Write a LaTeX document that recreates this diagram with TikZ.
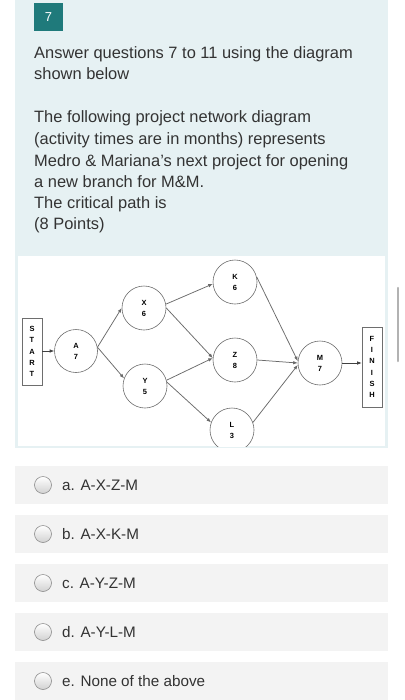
\documentclass[tikz,border=0pt]{standalone}
\usepackage{fontspec}
\setmainfont{Liberation Sans}
\usetikzlibrary{arrows.meta,shapes.geometric}
\definecolor{panel}{HTML}{E6F1F3}
\definecolor{teal7}{HTML}{1F7A7B}
\definecolor{txt}{HTML}{333333}
\definecolor{optbg}{HTML}{F3F3F3}
\definecolor{edge}{HTML}{6A6A6A}
\definecolor{ring}{HTML}{6E6E6E}
\tikzset{
  para/.style={anchor=base west, inner sep=0, text=txt, font=\fontsize{16.5}{21}\selectfont},
  act/.style={circle, draw=ring, line width=0.6pt, minimum size=44bp, inner sep=0, align=center,
     font=\fontsize{7.5}{11}\selectfont\bfseries, fill=white},
  endbox/.style={rectangle, draw=ring, line width=0.6pt, minimum width=20bp, inner sep=0, align=center,
     font=\fontsize{7.5}{11.2}\selectfont\bfseries, fill=white},
  arr/.style={draw=edge, line width=0.75pt, -{Latex[length=4.5bp,width=3.5bp]}},
  arrk/.style={draw=black!75, line width=0.6pt, -{Latex[length=4.5bp,width=3.5bp]}},
  optbox/.style={fill=optbg, draw=none},
  radio/.style={circle, draw=black!45, line width=0.6pt, minimum size=17bp, inner sep=0, top color=white, bottom color=black!18},
  opt/.style={anchor=base west, inner sep=0, text=txt, font=\fontsize{15.3}{18}\selectfont},
}
\begin{document}
\begin{tikzpicture}[x=1bp,y=-1bp]
\useasboundingbox (0,0) rectangle (404,700);
\fill[white] (0,0) rectangle (404,700);
% question panel
\fill[panel] (15,0) rectangle (388,448);
\fill[teal7] (34,3) rectangle (63,31);
\node[text=white, font=\fontsize{13}{13}\selectfont] (qnum) at (48.5,17) {7};
\node[para] (p1) at (34,59) {Answer questions 7 to 11 using the diagram};
\node[para] (p2) at (34,80) {shown below};
\node[para] (p3) at (34,123) {The following project network diagram};
\node[para] (p4) at (34,144) {(activity times are in months) represents};
\node[para] (p5) at (34,166) {Medro \& Mariana’s next project for opening};
\node[para] (p6) at (34,187) {a new branch for M\&M.};
\node[para] (p7) at (34,208) {The critical path is};
\node[para] (p8) at (34,229) {(8 Points)};
% diagram
\fill[white] (18,256) rectangle (385,446);
\begin{scope}
\clip (18,256) rectangle (385,446);
\node[endbox, minimum height=67bp] (start) at (32,351.5) {S\\T\\A\\R\\T};
\node[endbox, minimum height=80bp] (finish) at (372,367) {F\\I\\N\\I\\S\\H};
\node[act, minimum size=43bp] (A) at (76,351) {A\\7};
\node[act] (X) at (144,308) {X\\6};
\node[act] (Y) at (145,386) {Y\\5};
\node[act] (K) at (235,282) {K\\6};
\node[act] (Z) at (235,360) {Z\\8};
\node[act] (L) at (232,430) {L\\3};
\node[act] (M) at (320,363) {M\\7};
\draw[arrk] (start.east |- A) -- (A.west);
\draw[arr] (A.10) -- (X.west);
\draw[arr] (A.10) -- (Y.160);
\draw[arr] (X.10) -- (K.185);
\draw[arr] (X.east) -- (Z.175);
\draw[arr] (Y.15) -- (Z.175);
\draw[arr] (Y.10) -- (L.160);
\draw[arr] (K.13) -- (M.175);
\draw[arr] (Z.east) -- (M.west);
\draw[arr] (L.20) -- (M.185);
\coordinate (fin) at (finish.west |- M);
\draw[arrk] (M.east) -- (fin);
\end{scope}
% scrollbar
\draw[line width=2.5bp, draw=black!30, line cap=round] (398,288) -- (398,361);
% options
\fill[optbox] (15,466) rectangle (388,504);
\fill[optbox] (15,515) rectangle (388,553);
\fill[optbox] (15,564) rectangle (388,602);
\fill[optbox] (15,613) rectangle (388,651);
\fill[optbox] (15,662) rectangle (388,700);
\node[radio] (ra) at (43,485) {};
\node[radio] (rb) at (43,534) {};
\node[radio] (rc) at (43,583) {};
\node[radio] (rd) at (43,632) {};
\node[radio] (re) at (43,681) {};
\node[opt] (oa) at (62,490.5) {a. A-X-Z-M};
\node[opt] (ob) at (62,539.5) {b. A-X-K-M};
\node[opt] (oc) at (62,588.5) {c. A-Y-Z-M};
\node[opt] (od) at (62,637.5) {d. A-Y-L-M};
\node[opt] (oe) at (62,686.5) {e. None of the above};
\end{tikzpicture}
\end{document}
